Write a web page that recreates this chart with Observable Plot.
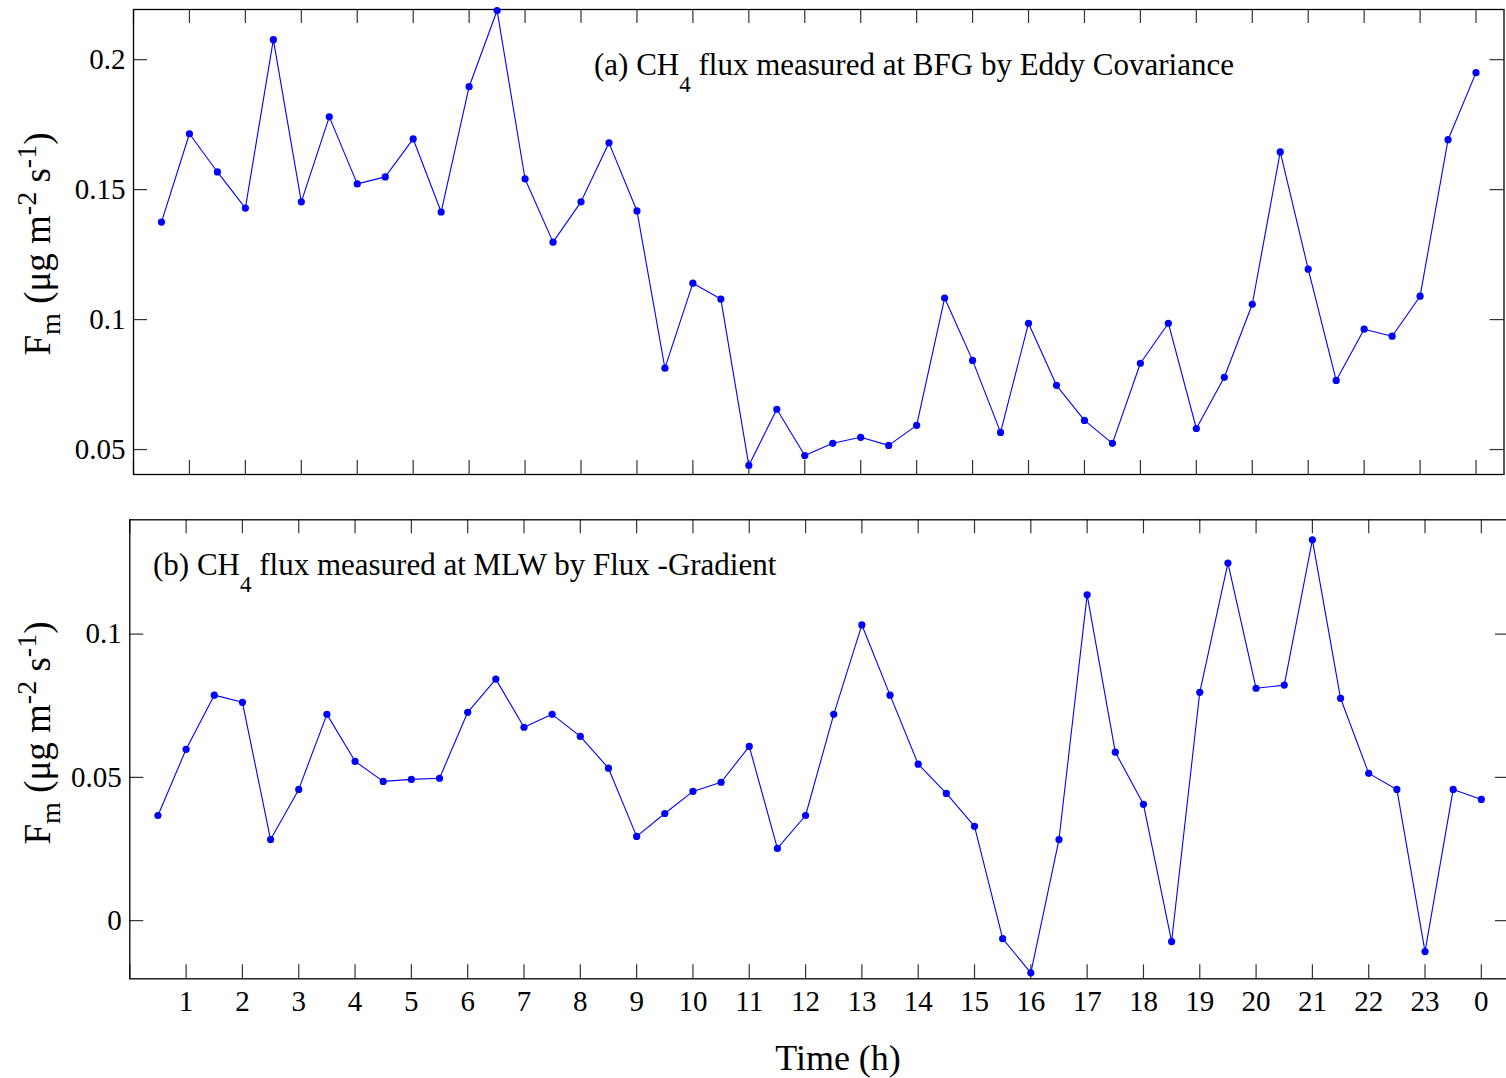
<!DOCTYPE html>
<html><head><meta charset="utf-8">
<script src="https://cdn.jsdelivr.net/npm/d3@7"></script>
<script src="https://cdn.jsdelivr.net/npm/@observablehq/plot@0.6"></script>
<style>
html,body{margin:0;padding:0;background:#fff;overflow:hidden}
#wrap{position:relative;width:1506px;height:1078px;background:#fff}
#wrap svg{position:absolute;left:0;overflow:hidden}
</style></head><body><div id="wrap"></div>
<script>
// half-hourly time stamps (h)
const hours = [0.5,1,1.5,2,2.5,3,3.5,4,4.5,5,5.5,6,6.5,7,7.5,8,8.5,9,9.5,10,10.5,11,11.5,12,
               12.5,13,13.5,14,14.5,15,15.5,16,16.5,17,17.5,18,18.5,19,19.5,20,20.5,21,21.5,22,22.5,23,23.5,24];
// (a) CH4 flux at BFG, Eddy Covariance
const fluxBFG = [0.1375,0.1715,0.1568,0.1429,0.2077,0.1453,0.1780,0.1522,0.1549,0.1695,0.1414,0.1896,0.2189,0.1541,0.1298,0.1453,
                 0.1680,0.1418,0.0813,0.1140,0.1079,0.0439,0.0655,0.0477,0.0524,0.0547,0.0516,0.0593,0.1083,0.0843,0.0566,0.0986,
                 0.0747,0.0612,0.0524,0.0832,0.0986,0.0581,0.0778,0.1059,0.1645,0.1194,0.0766,0.0963,0.0936,0.1090,0.1692,0.1950];
// (b) CH4 flux at MLW, Flux-Gradient
const fluxMLW = [0.0367,0.0598,0.0787,0.0762,0.0283,0.0458,0.0720,0.0556,0.0486,0.0493,0.0497,0.0727,0.0843,0.0675,0.0720,0.0643,
                 0.0532,0.0294,0.0374,0.0451,0.0483,0.0608,0.0252,0.0367,0.0720,0.1032,0.0787,0.0546,0.0444,0.0329,-0.0063,-0.0182,
                 0.0283,0.1137,0.0588,0.0406,-0.0073,0.0797,0.1248,0.0811,0.0822,0.1329,0.0776,0.0514,0.0458,-0.0108,0.0458,0.0423];
const xTickMarks = [0,1,2,3,4,5,6,7,8,9,10,11,12,13,14,15,16,17,18,19,20,21,22,23,24];
const xTickValues = [1,2,3,4,5,6,7,8,9,10,11,12,13,14,15,16,17,18,19,20,21,22,23,24];
const xTickLabels = ["1","2","3","4","5","6","7","8","9","10","11","12","13","14","15","16","17","18","19","20","21","22","23","0"];
const yTicksA = [0.05,0.1,0.15,0.2];
const yTicksB = [0,0.05,0.1];

const FONT = "'Liberation Serif','Times New Roman',serif";
const BLUE = "#0000ff";
const wrap = document.getElementById("wrap");

function panel({vals, yDomain, yTicks, top, height, mt, mb, ml, mr, showX}) {
  const width = 1506;
  const innerH = height - mt - mb;
  const innerW = width - ml - mr;
  const data = hours.map((h, i) => ({h, v: vals[i]}));
  const TL = 14;
  const svg = Plot.plot({
    width, height,
    marginTop: mt, marginBottom: mb, marginLeft: ml, marginRight: mr,
    style: {fontFamily: FONT, fontSize: "29px", color: "#000", background: "#fff"},
    x: showX ? {domain: [0, 24.5], ticks: xTickValues, tickSize: 0, tickPadding: 12,
                tickFormat: d => xTickLabels[xTickValues.indexOf(d)], label: null}
             : {domain: [0, 24.5], axis: null},
    y: {domain: yDomain, ticks: yTicks, tickSize: 0, tickPadding: 8, tickFormat: d => String(d), label: null},
    marks: [
      Plot.tickX(xTickMarks, {x: d => d, insetTop: innerH - TL, stroke: "#333", strokeWidth: 1.2}),
      Plot.tickX(xTickMarks, {x: d => d, insetBottom: innerH - TL, stroke: "#333", strokeWidth: 1.2}),
      Plot.tickY(yTicks, {y: d => d, insetRight: innerW - TL, stroke: "#333", strokeWidth: 1.2}),
      Plot.tickY(yTicks, {y: d => d, insetLeft: innerW - TL, stroke: "#333", strokeWidth: 1.2}),
      Plot.frame({stroke: "#000", strokeWidth: 1.3}),
      Plot.line(data, {x: "h", y: "v", stroke: BLUE, strokeWidth: 1.1}),
      Plot.dot(data, {x: "h", y: "v", r: 3.6, fill: BLUE, stroke: "none"})
    ]
  });
  svg.style.top = top + "px";
  wrap.appendChild(svg);
  return svg;
}

function yLabel(svg, x, y) {
  const t = d3.select(svg).append("text")
    .attr("transform", `translate(${x},${y}) rotate(-90)`)
    .attr("text-anchor", "middle")
    .attr("font-family", FONT).attr("font-size", 37).attr("fill", "#000");
  t.append("tspan").text("F");
  t.append("tspan").attr("font-size", 28).attr("dy", 10).text("m");
  t.append("tspan").attr("dy", -10).text(" (μg m");
  t.append("tspan").attr("font-size", 28).attr("dy", -14).text("-2");
  t.append("tspan").attr("dy", 14).text(" s");
  t.append("tspan").attr("font-size", 28).attr("dy", -14).text("-1");
  t.append("tspan").attr("dy", 14).text(")");
}

function note(svg, x, y, pre, post) {
  const t = d3.select(svg).append("text")
    .attr("x", x).attr("y", y).attr("text-anchor", "start")
    .attr("font-family", FONT).attr("font-size", 31).attr("fill", "#000");
  t.append("tspan").text(pre);
  t.append("tspan").attr("font-size", 23).attr("dy", 17).text("4");
  t.append("tspan").attr("dy", -17).text(post);
}

const topSvg = panel({vals: fluxBFG, yDomain: [0.0404, 0.2193], yTicks: yTicksA,
  top: 0, height: 490, mt: 9, mb: 16, ml: 133, mr: 2.5, showX: false});
const botSvg = panel({vals: fluxMLW, yDomain: [-0.0203, 0.1399], yTicks: yTicksB,
  top: 490, height: 588, mt: 29.3, mb: 99.7, ml: 129.3, mr: -3, showX: true});

yLabel(topSvg, 50, 244);
yLabel(botSvg, 50, 733 - 490);
note(topSvg, 594, 75, "(a) CH", " flux measured at BFG by Eddy Covariance");
note(botSvg, 153, 575 - 490, "(b) CH", " flux measured at MLW by Flux -Gradient");

d3.select(botSvg).append("text")
  .attr("x", 838).attr("y", 1070 - 490).attr("text-anchor", "middle")
  .attr("font-family", FONT).attr("font-size", 36).attr("fill", "#000")
  .text("Time (h)");
</script>
</body></html>
